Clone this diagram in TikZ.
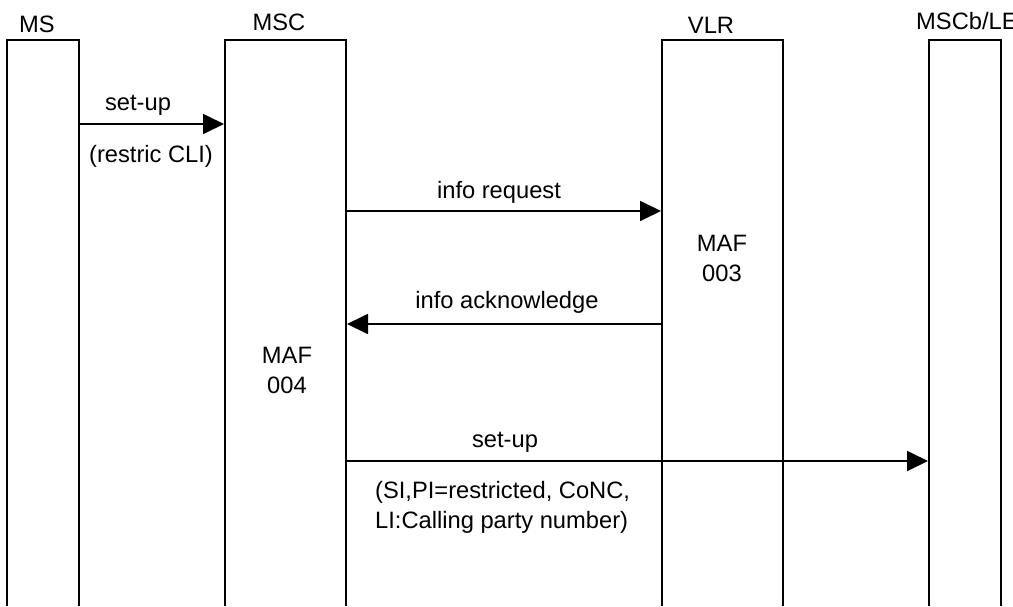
\documentclass[tikz,border=0pt]{standalone}
\usepackage{fontspec}
\setmainfont{Liberation Sans}
\usetikzlibrary{arrows.meta}
\begin{document}
\begin{tikzpicture}[x=1pt,y=-1pt,
  lifebox/.style={line width=1.8pt,line join=miter},
  msg/.style={line width=1.8pt,-{Triangle[length=21pt,width=20pt]}},
  lbl/.style={inner sep=0pt,anchor=base,font=\fontsize{23.7}{30}\selectfont},
  every node/.style={font=\fontsize{23.7}{30}\selectfont}]
\useasboundingbox (0,0) rectangle (1013,606);
\fill[white] (0,0) rectangle (1013,606);
% lifeline boxes (open at bottom)
\draw[lifebox] (7,606) -- (7,40) -- (79,40) -- (79,606);
\draw[lifebox] (225,606) -- (225,40) -- (346,40) -- (346,606);
\draw[lifebox] (662,606) -- (662,40) -- (783,40) -- (783,606);
\draw[lifebox] (929,606) -- (929,40) -- (1001,40) -- (1001,606);
% headers
\node[lbl] (hms) at (37,32) {MS};
\node[lbl] (hmsc) at (279,30) {MSC};
\node[lbl] (hvlr) at (711,33) {VLR};
\node[lbl,anchor=base west] (hmscb) at (916,29) {MSCb/LE};
% message end points
\coordinate (ms1) at (79,124);
\coordinate (msc1) at (224,124);
\coordinate (msc2) at (346,211);
\coordinate (vlr2) at (661,211);
\coordinate (vlr3) at (662,324);
\coordinate (msc3) at (347,324);
\coordinate (msc4) at (346,461);
\coordinate (le4) at (928,461);
% messages
\draw[msg] (ms1) -- (msc1);
\draw[msg] (msc2) -- (vlr2);
\draw[msg] (vlr3) -- (msc3);
\draw[msg] (msc4) -- (le4);
% labels
\node[lbl] (l1) at (138,110) {set-up};
\node[lbl] (l1b) at (151,162) {(restric CLI)};
\node[lbl] (l2) at (499,198) {info request};
\node[lbl] (l3) at (507,308) {info acknowledge};
\node[lbl,align=center] (maf3) at (722,281) {MAF\\003};
\node[lbl,align=center] (maf4) at (287,393) {MAF\\004};
\node[lbl] (l4) at (505,447) {set-up};
\node[lbl,anchor=base west,align=left] (l4b) at (375,528) {(SI,PI=restricted, CoNC,\\LI:Calling party number)};
\end{tikzpicture}
\end{document}
